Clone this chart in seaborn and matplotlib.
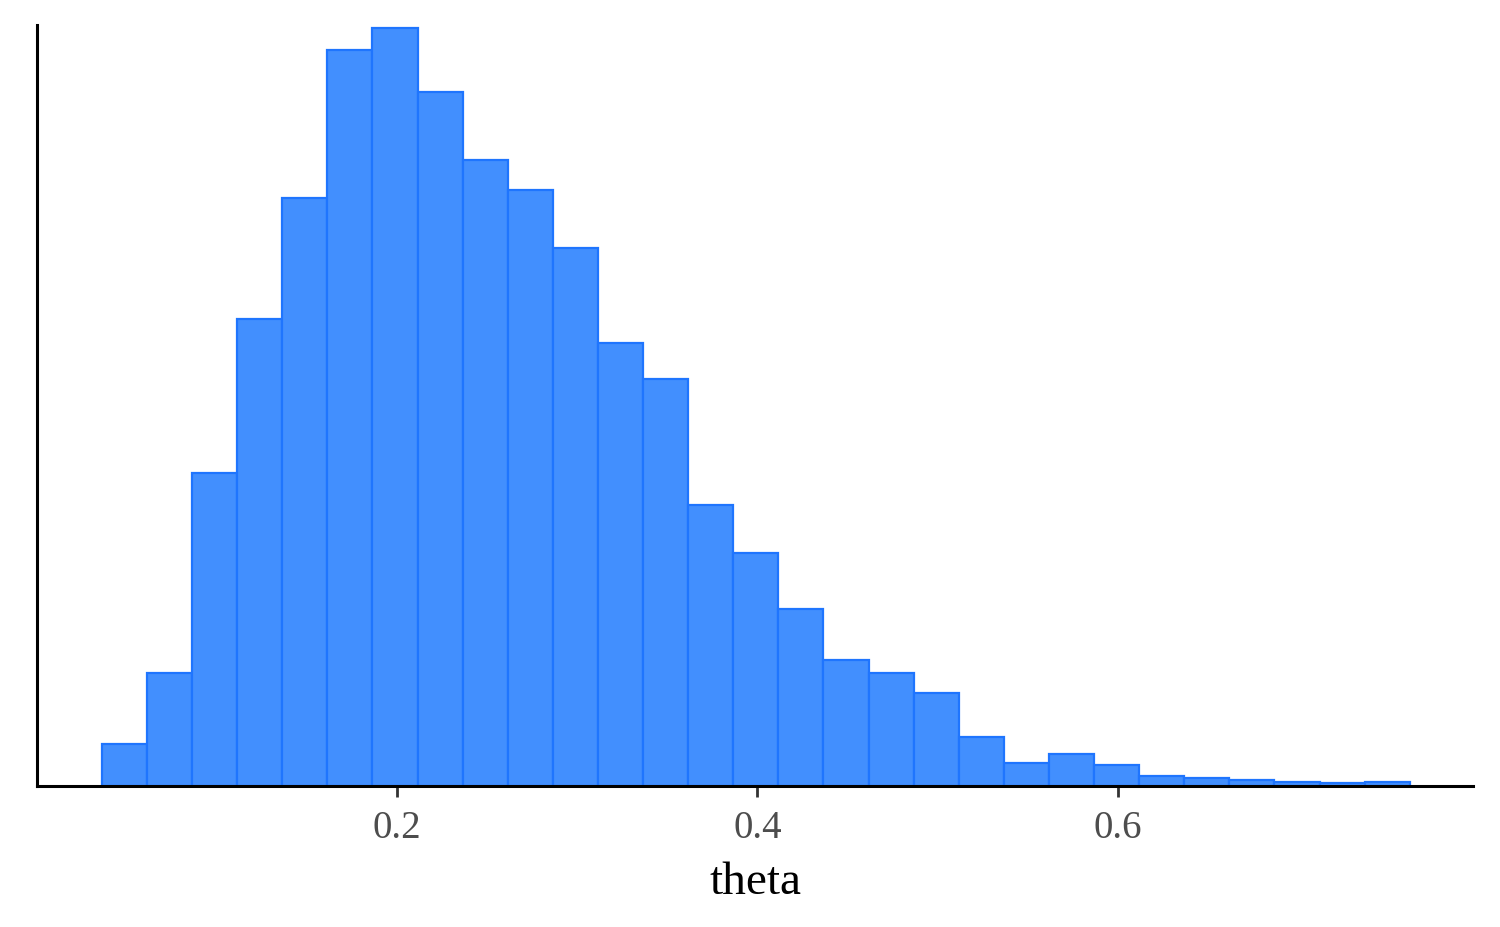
import numpy as np
import pandas as pd
import matplotlib
matplotlib.use("Agg")
import matplotlib.pyplot as plt
import seaborn as sns

# Histogram of theta draws (bin counts, arbitrary units)
bin_start = 0.0363
bin_width = 0.02502
counts = [42, 113, 313, 466, 587, 735, 757, 693, 625, 595, 537, 442, 406,
          281, 233, 177, 126, 113, 93, 49, 23, 32, 21, 10, 8, 6, 4, 2.7, 4]
x_ticks = [0.2, 0.4, 0.6]
x_label = "theta"

n = len(counts)
edges = bin_start + bin_width * np.arange(n + 1)
centers = (edges[:-1] + edges[1:]) / 2
df = pd.DataFrame({"theta": centers, "w": counts})

sns.set_theme(style="white")
plt.rcParams["font.family"] = ["Liberation Serif", "DejaVu Serif"]

fig = plt.figure(figsize=(15, 9.27), dpi=100)
ax = fig.add_axes([37 / 1500, 1 - 786 / 927, (1473 - 37) / 1500, (786 - 25) / 927])

sns.histplot(data=df, x="theta", weights="w", bins=n,
             binrange=(edges[0], edges[-1]), ax=ax,
             color="#428ffe", edgecolor="#1f75fe", linewidth=1.6, alpha=1.0)

ax.set_xlim(0.0003, 0.797)
ax.set_ylim(0, 760)
ax.set_xticks(x_ticks)
ax.set_xticklabels([f"{t:.1f}" for t in x_ticks])
ax.set_yticks([])
ax.set_ylabel("")
ax.set_xlabel(x_label, fontsize=34, color="black", labelpad=11)
ax.tick_params(axis="x", labelsize=28, labelcolor="#4d4d4d", colors="#333333",
               length=8, width=2, direction="out", bottom=True, pad=9)
ax.tick_params(axis="x", labelcolor="#4d4d4d")
for side in ["top", "right"]:
    ax.spines[side].set_visible(False)
for side in ["left", "bottom"]:
    ax.spines[side].set_color("black")
    ax.spines[side].set_linewidth(2.2)
ax.grid(False)
ax.set_facecolor("white")

fig.savefig("out.png", dpi=100, facecolor="white")
